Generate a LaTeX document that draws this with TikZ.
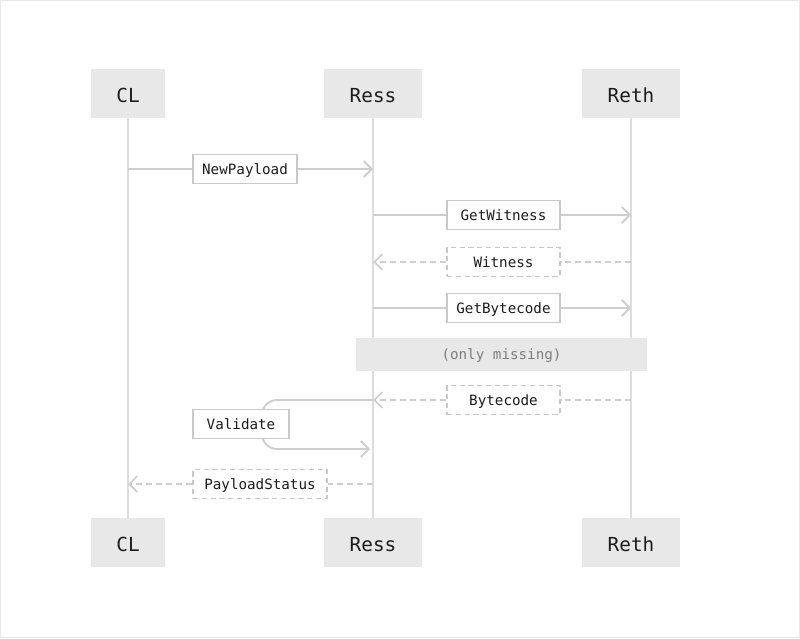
\documentclass[tikz,border=0pt]{standalone}
\usepackage{fontspec}
\setmonofont{DejaVu Sans Mono}
\usetikzlibrary{arrows.meta, calc}
\definecolor{hdrgray}{RGB}{232,232,232}
\definecolor{lifegray}{RGB}{221,221,221}
\definecolor{msggray}{RGB}{206,206,206}
\definecolor{boxgray}{RGB}{200,200,200}
\definecolor{txtdark}{RGB}{28,28,28}
\definecolor{notegray}{RGB}{125,125,125}
\definecolor{framegray}{RGB}{232,232,232}
\tikzset{
  actor/.style={rectangle, fill=hdrgray, minimum height=0.98cm,
    inner sep=0pt, text height=10.2pt, text depth=0pt,
    font=\ttfamily\fontsize{11}{13}\selectfont, text=txtdark},
  lifeline/.style={line width=1.2pt, color=lifegray},
  msgbox/.style={rectangle, draw=boxgray, fill=white, line width=0.8pt,
    minimum height=0.58cm, inner sep=0pt, text height=7.2pt, text depth=1pt,
    font=\ttfamily\fontsize{8.1}{10}\selectfont, text=txtdark},
  replybox/.style={msgbox, dash pattern=on 3pt off 2pt},
  call/.style={line width=1.1pt, color=msggray},
  callarrow/.style={call, -{Straight Barb[length=4.5pt, width=9pt]}},
  reply/.style={call, dash pattern=on 3.4pt off 2.3pt},
  replyarrow/.style={reply, -{Straight Barb[length=4.5pt, width=9pt]}},
  notebar/.style={rectangle, fill=hdrgray, minimum width=5.82cm,
    minimum height=0.66cm, inner sep=0pt, text height=7.2pt, text depth=1pt,
    font=\ttfamily\fontsize{8.1}{10}\selectfont, text=notegray}
}

\begin{document}
\begin{tikzpicture}[x=0.02cm, y=-0.02cm]
  \useasboundingbox (0,0) rectangle (800,638);
  \draw[framegray, line width=0.6pt] (0.5,0.5) rectangle (799.5,637.5);
  % participants
  \node[actor, minimum width=1.5cm] (clTop) at (128,93.5) {CL};
  \node[actor, minimum width=1.96cm] (ressTop) at (373,93.5) {Ress};
  \node[actor, minimum width=1.96cm] (rethTop) at (631,93.5) {Reth};
  \node[actor, minimum width=1.5cm] (clBot) at (128,542.5) {CL};
  \node[actor, minimum width=1.96cm] (ressBot) at (373,542.5) {Ress};
  \node[actor, minimum width=1.96cm] (rethBot) at (631,542.5) {Reth};
  % lifelines
  \draw[lifeline] (clTop.south) -- (clBot.north);
  \draw[lifeline] (ressTop.south) -- (ressBot.north);
  \draw[lifeline] (rethTop.south) -- (rethBot.north);
  % NewPayload
  \node[msgbox, minimum width=2.08cm] (npLabel) at (245,169) {NewPayload};
  \draw[call] (clTop |- npLabel) -- (npLabel.west);
  \draw[callarrow] (npLabel.east) -- (ressTop |- npLabel);
  % GetWitness / Witness
  \node[msgbox, minimum width=2.26cm] (gwLabel) at (503.5,215) {GetWitness};
  \draw[call] (ressTop |- gwLabel) -- (gwLabel.west);
  \draw[callarrow] (gwLabel.east) -- (rethTop |- gwLabel);
  \node[replybox, minimum width=2.26cm] (wLabel) at (503.5,262) {Witness};
  \draw[reply] (rethTop |- wLabel) -- (wLabel.east);
  \draw[replyarrow] (wLabel.west) -- (ressTop |- wLabel);
  % GetBytecode / Bytecode
  \node[msgbox, minimum width=2.26cm] (gbLabel) at (503.5,308) {GetBytecode};
  \draw[call] (ressTop |- gbLabel) -- (gbLabel.west);
  \draw[callarrow] (gbLabel.east) -- (rethTop |- gbLabel);
  \node[notebar] (missNote) at (501.5,354.5) {(only missing)};
  \node[replybox, minimum width=2.26cm] (bLabel) at (503.5,400) {Bytecode};
  \draw[reply] (rethTop |- bLabel) -- (bLabel.east);
  \draw[replyarrow] (bLabel.west) -- (ressTop |- bLabel);
  % Validate (self call)
  \coordinate (valAt) at (241,424);
  \coordinate (valOut) at ($(valAt)+(0,25)$);
  \draw[callarrow, rounded corners=0.3cm]
    (ressTop |- bLabel) -| ($(valAt)+(21,0)$) |- ($(ressTop |- valOut)+(-3,0)$);
  \node[msgbox, minimum width=1.92cm] (valLabel) at (valAt) {Validate};
  % PayloadStatus
  \node[replybox, minimum width=2.68cm] (psLabel) at (260,484) {PayloadStatus};
  \draw[reply] (ressTop |- psLabel) -- (psLabel.east);
  \draw[replyarrow] (psLabel.west) -- (clTop |- psLabel);
\end{tikzpicture}
\end{document}
